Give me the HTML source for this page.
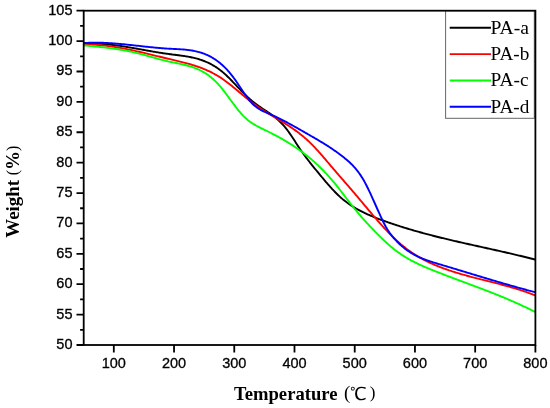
<!DOCTYPE html>
<html><head><meta charset="utf-8"><title>TGA curves</title>
<style>
html,body{margin:0;padding:0;background:#fff;}
body{width:550px;height:408px;overflow:hidden;}
svg{display:block;}
.tick text{font-family:"Liberation Sans",Arial,sans-serif;font-size:14.5px;fill:#000;stroke:#000;stroke-width:0.3px;}
.leg text{font-family:"Liberation Serif","Times New Roman",serif;font-size:19px;fill:#000;}
.unit{font-family:"Liberation Serif","Times New Roman",serif;fill:#000;}
.ttl{font-family:"Liberation Serif","Times New Roman",serif;font-weight:bold;font-size:19px;fill:#000;}
</style></head>
<body>
<svg width="550" height="408" viewBox="0 0 550 408">
<rect width="550" height="408" fill="#fff"/>
<g fill="none" stroke-width="1.9" stroke-linejoin="round" stroke-linecap="round">
<path d="M84.0,43.49 L85.0,43.45 L86.0,43.42 L87.0,43.40 L88.0,43.38 L89.0,43.38 L90.0,43.37 L91.0,43.38 L92.0,43.39 L93.0,43.41 L94.0,43.44 L95.0,43.47 L96.0,43.51 L97.0,43.55 L98.0,43.60 L99.0,43.66 L100.0,43.72 L101.0,43.78 L102.0,43.85 L103.0,43.93 L104.0,44.01 L105.0,44.10 L106.0,44.19 L107.0,44.29 L108.0,44.39 L109.0,44.50 L110.0,44.61 L111.0,44.72 L112.0,44.84 L113.0,44.96 L114.0,45.09 L115.0,45.22 L116.0,45.35 L117.0,45.48 L118.0,45.62 L119.0,45.77 L120.0,45.91 L121.0,46.06 L122.0,46.21 L123.0,46.37 L124.0,46.52 L125.0,46.68 L126.0,46.84 L127.0,47.01 L128.0,47.17 L129.0,47.34 L130.0,47.51 L131.0,47.68 L132.0,47.85 L133.0,48.02 L134.0,48.20 L135.0,48.37 L136.0,48.55 L137.0,48.73 L138.0,48.91 L139.0,49.09 L140.0,49.26 L141.0,49.44 L142.0,49.62 L143.0,49.80 L144.0,49.98 L145.0,50.16 L146.0,50.34 L147.0,50.52 L148.0,50.70 L149.0,50.87 L150.0,51.05 L151.0,51.22 L152.0,51.40 L153.0,51.57 L154.0,51.74 L155.0,51.91 L156.0,52.08 L157.0,52.24 L158.0,52.41 L159.0,52.57 L160.0,52.73 L161.0,52.89 L162.0,53.04 L163.0,53.20 L164.0,53.35 L165.0,53.50 L166.0,53.64 L167.0,53.78 L168.0,53.92 L169.0,54.05 L170.0,54.19 L171.0,54.31 L172.0,54.44 L173.0,54.57 L174.0,54.69 L175.0,54.81 L176.0,54.94 L177.0,55.06 L178.0,55.19 L179.0,55.31 L180.0,55.45 L181.0,55.58 L182.0,55.72 L183.0,55.86 L184.0,56.01 L185.0,56.16 L186.0,56.32 L187.0,56.49 L188.0,56.66 L189.0,56.84 L190.0,57.04 L191.0,57.24 L192.0,57.45 L193.0,57.67 L194.0,57.90 L195.0,58.15 L196.0,58.41 L197.0,58.68 L198.0,58.96 L199.0,59.26 L200.0,59.58 L201.0,59.91 L202.0,60.25 L203.0,60.62 L204.0,61.00 L205.0,61.39 L206.0,61.81 L207.0,62.25 L208.0,62.71 L209.0,63.18 L210.0,63.68 L211.0,64.20 L212.0,64.74 L213.0,65.31 L214.0,65.90 L215.0,66.51 L216.0,67.15 L217.0,67.82 L218.0,68.51 L219.0,69.22 L220.0,69.97 L221.0,70.74 L222.0,71.54 L223.0,72.37 L224.0,73.23 L225.0,74.12 L226.0,75.04 L227.0,75.98 L228.0,76.95 L229.0,77.94 L230.0,78.94 L231.0,79.96 L232.0,81.00 L233.0,82.05 L234.0,83.10 L235.0,84.16 L236.0,85.22 L237.0,86.29 L238.0,87.35 L239.0,88.41 L240.0,89.47 L241.0,90.51 L242.0,91.55 L243.0,92.57 L244.0,93.58 L245.0,94.56 L246.0,95.53 L247.0,96.47 L248.0,97.39 L249.0,98.29 L250.0,99.17 L251.0,100.03 L252.0,100.86 L253.0,101.68 L254.0,102.48 L255.0,103.26 L256.0,104.02 L257.0,104.76 L258.0,105.49 L259.0,106.20 L260.0,106.90 L261.0,107.58 L262.0,108.25 L263.0,108.92 L264.0,109.58 L265.0,110.24 L266.0,110.89 L267.0,111.56 L268.0,112.23 L269.0,112.90 L270.0,113.59 L271.0,114.30 L272.0,115.02 L273.0,115.76 L274.0,116.52 L275.0,117.31 L276.0,118.12 L277.0,118.97 L278.0,119.85 L279.0,120.77 L280.0,121.72 L281.0,122.72 L282.0,123.76 L283.0,124.85 L284.0,125.99 L285.0,127.18 L286.0,128.42 L287.0,129.70 L288.0,131.04 L289.0,132.41 L290.0,133.83 L291.0,135.28 L292.0,136.76 L293.0,138.28 L294.0,139.81 L295.0,141.35 L296.0,142.90 L297.0,144.44 L298.0,145.97 L299.0,147.48 L300.0,148.97 L301.0,150.42 L302.0,151.86 L303.0,153.26 L304.0,154.65 L305.0,156.01 L306.0,157.36 L307.0,158.68 L308.0,159.99 L309.0,161.28 L310.0,162.56 L311.0,163.83 L312.0,165.08 L313.0,166.32 L314.0,167.56 L315.0,168.79 L316.0,170.01 L317.0,171.22 L318.0,172.43 L319.0,173.64 L320.0,174.85 L321.0,176.06 L322.0,177.26 L323.0,178.46 L324.0,179.65 L325.0,180.84 L326.0,182.01 L327.0,183.18 L328.0,184.33 L329.0,185.48 L330.0,186.61 L331.0,187.72 L332.0,188.82 L333.0,189.90 L334.0,190.96 L335.0,192.00 L336.0,193.01 L337.0,194.01 L338.0,194.98 L339.0,195.92 L340.0,196.84 L341.0,197.74 L342.0,198.60 L343.0,199.45 L344.0,200.26 L345.0,201.06 L346.0,201.83 L347.0,202.58 L348.0,203.31 L349.0,204.02 L350.0,204.71 L351.0,205.38 L352.0,206.03 L353.0,206.66 L354.0,207.28 L355.0,207.88 L356.0,208.46 L357.0,209.03 L358.0,209.59 L359.0,210.13 L360.0,210.66 L361.0,211.18 L362.0,211.68 L363.0,212.18 L364.0,212.67 L365.0,213.14 L366.0,213.61 L367.0,214.07 L368.0,214.52 L369.0,214.96 L370.0,215.40 L371.0,215.82 L372.0,216.24 L373.0,216.66 L374.0,217.07 L375.0,217.47 L376.0,217.86 L377.0,218.26 L378.0,218.64 L379.0,219.02 L380.0,219.40 L381.0,219.77 L382.0,220.14 L383.0,220.51 L384.0,220.87 L385.0,221.23 L386.0,221.58 L387.0,221.94 L388.0,222.29 L389.0,222.64 L390.0,222.98 L391.0,223.32 L392.0,223.66 L393.0,224.00 L394.0,224.34 L395.0,224.67 L396.0,225.00 L397.0,225.33 L398.0,225.65 L399.0,225.97 L400.0,226.29 L401.0,226.61 L402.0,226.93 L403.0,227.24 L404.0,227.55 L405.0,227.86 L406.0,228.17 L407.0,228.47 L408.0,228.77 L409.0,229.07 L410.0,229.37 L411.0,229.67 L412.0,229.96 L413.0,230.25 L414.0,230.54 L415.0,230.83 L416.0,231.12 L417.0,231.40 L418.0,231.68 L419.0,231.96 L420.0,232.24 L421.0,232.52 L422.0,232.79 L423.0,233.06 L424.0,233.34 L425.0,233.61 L426.0,233.87 L427.0,234.14 L428.0,234.40 L429.0,234.67 L430.0,234.93 L431.0,235.19 L432.0,235.45 L433.0,235.71 L434.0,235.96 L435.0,236.22 L436.0,236.47 L437.0,236.72 L438.0,236.97 L439.0,237.22 L440.0,237.47 L441.0,237.72 L442.0,237.96 L443.0,238.20 L444.0,238.45 L445.0,238.69 L446.0,238.93 L447.0,239.17 L448.0,239.41 L449.0,239.65 L450.0,239.88 L451.0,240.12 L452.0,240.36 L453.0,240.59 L454.0,240.82 L455.0,241.06 L456.0,241.29 L457.0,241.52 L458.0,241.75 L459.0,241.98 L460.0,242.21 L461.0,242.44 L462.0,242.66 L463.0,242.89 L464.0,243.12 L465.0,243.34 L466.0,243.57 L467.0,243.79 L468.0,244.02 L469.0,244.24 L470.0,244.47 L471.0,244.69 L472.0,244.91 L473.0,245.14 L474.0,245.36 L475.0,245.58 L476.0,245.80 L477.0,246.02 L478.0,246.25 L479.0,246.47 L480.0,246.69 L481.0,246.91 L482.0,247.13 L483.0,247.35 L484.0,247.57 L485.0,247.79 L486.0,248.02 L487.0,248.24 L488.0,248.46 L489.0,248.68 L490.0,248.90 L491.0,249.12 L492.0,249.35 L493.0,249.57 L494.0,249.79 L495.0,250.02 L496.0,250.24 L497.0,250.46 L498.0,250.69 L499.0,250.91 L500.0,251.14 L501.0,251.36 L502.0,251.59 L503.0,251.82 L504.0,252.04 L505.0,252.27 L506.0,252.50 L507.0,252.73 L508.0,252.96 L509.0,253.19 L510.0,253.42 L511.0,253.66 L512.0,253.89 L513.0,254.12 L514.0,254.36 L515.0,254.59 L516.0,254.83 L517.0,255.07 L518.0,255.31 L519.0,255.55 L520.0,255.79 L521.0,256.03 L522.0,256.27 L523.0,256.51 L524.0,256.76 L525.0,257.01 L526.0,257.25 L527.0,257.50 L528.0,257.75 L529.0,258.00 L530.0,258.26 L531.0,258.51 L532.0,258.77 L533.0,259.02 L534.0,259.28 L535.0,259.54" stroke="#000" />
<path d="M84.0,44.57 L85.0,44.55 L86.0,44.55 L87.0,44.55 L88.0,44.56 L89.0,44.58 L90.0,44.60 L91.0,44.63 L92.0,44.67 L93.0,44.71 L94.0,44.76 L95.0,44.81 L96.0,44.87 L97.0,44.94 L98.0,45.01 L99.0,45.09 L100.0,45.17 L101.0,45.26 L102.0,45.36 L103.0,45.46 L104.0,45.56 L105.0,45.67 L106.0,45.79 L107.0,45.91 L108.0,46.03 L109.0,46.16 L110.0,46.29 L111.0,46.43 L112.0,46.58 L113.0,46.72 L114.0,46.88 L115.0,47.03 L116.0,47.19 L117.0,47.36 L118.0,47.52 L119.0,47.69 L120.0,47.87 L121.0,48.05 L122.0,48.23 L123.0,48.42 L124.0,48.61 L125.0,48.80 L126.0,48.99 L127.0,49.19 L128.0,49.39 L129.0,49.60 L130.0,49.80 L131.0,50.01 L132.0,50.22 L133.0,50.44 L134.0,50.66 L135.0,50.87 L136.0,51.09 L137.0,51.32 L138.0,51.54 L139.0,51.77 L140.0,52.00 L141.0,52.23 L142.0,52.46 L143.0,52.69 L144.0,52.93 L145.0,53.16 L146.0,53.40 L147.0,53.64 L148.0,53.88 L149.0,54.12 L150.0,54.36 L151.0,54.60 L152.0,54.84 L153.0,55.08 L154.0,55.32 L155.0,55.57 L156.0,55.81 L157.0,56.05 L158.0,56.30 L159.0,56.54 L160.0,56.78 L161.0,57.03 L162.0,57.27 L163.0,57.51 L164.0,57.75 L165.0,57.99 L166.0,58.23 L167.0,58.47 L168.0,58.71 L169.0,58.95 L170.0,59.18 L171.0,59.42 L172.0,59.65 L173.0,59.89 L174.0,60.12 L175.0,60.36 L176.0,60.59 L177.0,60.83 L178.0,61.07 L179.0,61.31 L180.0,61.55 L181.0,61.80 L182.0,62.05 L183.0,62.30 L184.0,62.56 L185.0,62.82 L186.0,63.09 L187.0,63.36 L188.0,63.63 L189.0,63.91 L190.0,64.20 L191.0,64.49 L192.0,64.79 L193.0,65.10 L194.0,65.41 L195.0,65.73 L196.0,66.06 L197.0,66.40 L198.0,66.75 L199.0,67.10 L200.0,67.47 L201.0,67.84 L202.0,68.23 L203.0,68.62 L204.0,69.03 L205.0,69.44 L206.0,69.87 L207.0,70.31 L208.0,70.77 L209.0,71.23 L210.0,71.71 L211.0,72.20 L212.0,72.70 L213.0,73.22 L214.0,73.76 L215.0,74.31 L216.0,74.87 L217.0,75.45 L218.0,76.04 L219.0,76.65 L220.0,77.28 L221.0,77.92 L222.0,78.58 L223.0,79.26 L224.0,79.96 L225.0,80.67 L226.0,81.40 L227.0,82.15 L228.0,82.91 L229.0,83.68 L230.0,84.47 L231.0,85.27 L232.0,86.08 L233.0,86.89 L234.0,87.72 L235.0,88.55 L236.0,89.38 L237.0,90.22 L238.0,91.06 L239.0,91.90 L240.0,92.74 L241.0,93.58 L242.0,94.42 L243.0,95.26 L244.0,96.09 L245.0,96.91 L246.0,97.73 L247.0,98.54 L248.0,99.34 L249.0,100.13 L250.0,100.91 L251.0,101.67 L252.0,102.42 L253.0,103.17 L254.0,103.90 L255.0,104.62 L256.0,105.34 L257.0,106.04 L258.0,106.73 L259.0,107.42 L260.0,108.09 L261.0,108.76 L262.0,109.42 L263.0,110.08 L264.0,110.72 L265.0,111.36 L266.0,112.00 L267.0,112.63 L268.0,113.25 L269.0,113.87 L270.0,114.48 L271.0,115.09 L272.0,115.69 L273.0,116.29 L274.0,116.89 L275.0,117.49 L276.0,118.08 L277.0,118.68 L278.0,119.28 L279.0,119.88 L280.0,120.48 L281.0,121.08 L282.0,121.68 L283.0,122.29 L284.0,122.91 L285.0,123.53 L286.0,124.15 L287.0,124.78 L288.0,125.42 L289.0,126.07 L290.0,126.72 L291.0,127.38 L292.0,128.06 L293.0,128.74 L294.0,129.44 L295.0,130.14 L296.0,130.86 L297.0,131.59 L298.0,132.34 L299.0,133.10 L300.0,133.88 L301.0,134.67 L302.0,135.48 L303.0,136.30 L304.0,137.14 L305.0,138.01 L306.0,138.89 L307.0,139.79 L308.0,140.71 L309.0,141.65 L310.0,142.61 L311.0,143.60 L312.0,144.60 L313.0,145.62 L314.0,146.66 L315.0,147.72 L316.0,148.79 L317.0,149.88 L318.0,150.98 L319.0,152.09 L320.0,153.22 L321.0,154.35 L322.0,155.49 L323.0,156.64 L324.0,157.80 L325.0,158.97 L326.0,160.14 L327.0,161.31 L328.0,162.49 L329.0,163.67 L330.0,164.85 L331.0,166.03 L332.0,167.21 L333.0,168.38 L334.0,169.55 L335.0,170.72 L336.0,171.89 L337.0,173.05 L338.0,174.21 L339.0,175.36 L340.0,176.51 L341.0,177.67 L342.0,178.82 L343.0,179.97 L344.0,181.12 L345.0,182.27 L346.0,183.42 L347.0,184.57 L348.0,185.72 L349.0,186.87 L350.0,188.03 L351.0,189.19 L352.0,190.35 L353.0,191.52 L354.0,192.69 L355.0,193.87 L356.0,195.05 L357.0,196.23 L358.0,197.42 L359.0,198.60 L360.0,199.80 L361.0,200.99 L362.0,202.18 L363.0,203.38 L364.0,204.57 L365.0,205.77 L366.0,206.96 L367.0,208.15 L368.0,209.34 L369.0,210.53 L370.0,211.72 L371.0,212.90 L372.0,214.08 L373.0,215.25 L374.0,216.42 L375.0,217.58 L376.0,218.74 L377.0,219.89 L378.0,221.04 L379.0,222.18 L380.0,223.31 L381.0,224.43 L382.0,225.54 L383.0,226.65 L384.0,227.74 L385.0,228.82 L386.0,229.90 L387.0,230.96 L388.0,232.01 L389.0,233.05 L390.0,234.07 L391.0,235.08 L392.0,236.08 L393.0,237.07 L394.0,238.04 L395.0,238.99 L396.0,239.93 L397.0,240.85 L398.0,241.76 L399.0,242.65 L400.0,243.52 L401.0,244.37 L402.0,245.21 L403.0,246.03 L404.0,246.83 L405.0,247.62 L406.0,248.39 L407.0,249.15 L408.0,249.89 L409.0,250.61 L410.0,251.32 L411.0,252.01 L412.0,252.70 L413.0,253.36 L414.0,254.02 L415.0,254.65 L416.0,255.28 L417.0,255.89 L418.0,256.49 L419.0,257.08 L420.0,257.66 L421.0,258.22 L422.0,258.77 L423.0,259.31 L424.0,259.84 L425.0,260.36 L426.0,260.87 L427.0,261.37 L428.0,261.86 L429.0,262.34 L430.0,262.81 L431.0,263.27 L432.0,263.72 L433.0,264.16 L434.0,264.59 L435.0,265.02 L436.0,265.44 L437.0,265.85 L438.0,266.25 L439.0,266.65 L440.0,267.04 L441.0,267.42 L442.0,267.80 L443.0,268.17 L444.0,268.54 L445.0,268.90 L446.0,269.25 L447.0,269.60 L448.0,269.95 L449.0,270.29 L450.0,270.62 L451.0,270.95 L452.0,271.28 L453.0,271.60 L454.0,271.92 L455.0,272.24 L456.0,272.55 L457.0,272.85 L458.0,273.16 L459.0,273.45 L460.0,273.75 L461.0,274.04 L462.0,274.33 L463.0,274.62 L464.0,274.90 L465.0,275.18 L466.0,275.46 L467.0,275.73 L468.0,276.01 L469.0,276.28 L470.0,276.55 L471.0,276.81 L472.0,277.08 L473.0,277.34 L474.0,277.60 L475.0,277.86 L476.0,278.12 L477.0,278.37 L478.0,278.63 L479.0,278.88 L480.0,279.14 L481.0,279.39 L482.0,279.64 L483.0,279.89 L484.0,280.14 L485.0,280.39 L486.0,280.65 L487.0,280.90 L488.0,281.15 L489.0,281.40 L490.0,281.65 L491.0,281.90 L492.0,282.15 L493.0,282.40 L494.0,282.66 L495.0,282.91 L496.0,283.17 L497.0,283.43 L498.0,283.68 L499.0,283.94 L500.0,284.20 L501.0,284.47 L502.0,284.73 L503.0,285.00 L504.0,285.27 L505.0,285.54 L506.0,285.81 L507.0,286.09 L508.0,286.37 L509.0,286.65 L510.0,286.93 L511.0,287.22 L512.0,287.51 L513.0,287.80 L514.0,288.10 L515.0,288.40 L516.0,288.70 L517.0,289.01 L518.0,289.32 L519.0,289.64 L520.0,289.95 L521.0,290.28 L522.0,290.61 L523.0,290.94 L524.0,291.28 L525.0,291.62 L526.0,291.96 L527.0,292.31 L528.0,292.67 L529.0,293.03 L530.0,293.40 L531.0,293.77 L532.0,294.15 L533.0,294.53 L534.0,294.92 L535.0,295.32" stroke="#f00" />
<path d="M84.0,45.33 L85.0,45.44 L86.0,45.54 L87.0,45.64 L88.0,45.75 L89.0,45.85 L90.0,45.95 L91.0,46.05 L92.0,46.15 L93.0,46.25 L94.0,46.36 L95.0,46.46 L96.0,46.56 L97.0,46.67 L98.0,46.77 L99.0,46.88 L100.0,46.99 L101.0,47.10 L102.0,47.21 L103.0,47.32 L104.0,47.43 L105.0,47.55 L106.0,47.67 L107.0,47.79 L108.0,47.91 L109.0,48.03 L110.0,48.16 L111.0,48.29 L112.0,48.42 L113.0,48.56 L114.0,48.70 L115.0,48.84 L116.0,48.99 L117.0,49.14 L118.0,49.29 L119.0,49.44 L120.0,49.61 L121.0,49.77 L122.0,49.94 L123.0,50.11 L124.0,50.29 L125.0,50.47 L126.0,50.66 L127.0,50.85 L128.0,51.05 L129.0,51.25 L130.0,51.46 L131.0,51.67 L132.0,51.89 L133.0,52.11 L134.0,52.34 L135.0,52.58 L136.0,52.82 L137.0,53.06 L138.0,53.32 L139.0,53.57 L140.0,53.83 L141.0,54.10 L142.0,54.36 L143.0,54.63 L144.0,54.91 L145.0,55.18 L146.0,55.46 L147.0,55.74 L148.0,56.02 L149.0,56.30 L150.0,56.58 L151.0,56.87 L152.0,57.15 L153.0,57.43 L154.0,57.71 L155.0,57.99 L156.0,58.27 L157.0,58.55 L158.0,58.82 L159.0,59.09 L160.0,59.36 L161.0,59.63 L162.0,59.89 L163.0,60.15 L164.0,60.40 L165.0,60.65 L166.0,60.89 L167.0,61.13 L168.0,61.36 L169.0,61.59 L170.0,61.81 L171.0,62.02 L172.0,62.23 L173.0,62.43 L174.0,62.64 L175.0,62.84 L176.0,63.04 L177.0,63.24 L178.0,63.44 L179.0,63.65 L180.0,63.86 L181.0,64.07 L182.0,64.29 L183.0,64.51 L184.0,64.74 L185.0,64.98 L186.0,65.23 L187.0,65.49 L188.0,65.76 L189.0,66.04 L190.0,66.34 L191.0,66.64 L192.0,66.97 L193.0,67.31 L194.0,67.67 L195.0,68.04 L196.0,68.44 L197.0,68.85 L198.0,69.29 L199.0,69.75 L200.0,70.23 L201.0,70.74 L202.0,71.27 L203.0,71.82 L204.0,72.41 L205.0,73.02 L206.0,73.66 L207.0,74.33 L208.0,75.03 L209.0,75.76 L210.0,76.53 L211.0,77.33 L212.0,78.16 L213.0,79.03 L214.0,79.94 L215.0,80.88 L216.0,81.87 L217.0,82.89 L218.0,83.95 L219.0,85.06 L220.0,86.21 L221.0,87.39 L222.0,88.62 L223.0,89.87 L224.0,91.15 L225.0,92.45 L226.0,93.78 L227.0,95.12 L228.0,96.47 L229.0,97.83 L230.0,99.19 L231.0,100.56 L232.0,101.92 L233.0,103.27 L234.0,104.62 L235.0,105.94 L236.0,107.25 L237.0,108.54 L238.0,109.80 L239.0,111.03 L240.0,112.22 L241.0,113.38 L242.0,114.50 L243.0,115.57 L244.0,116.59 L245.0,117.56 L246.0,118.48 L247.0,119.35 L248.0,120.17 L249.0,120.95 L250.0,121.70 L251.0,122.40 L252.0,123.08 L253.0,123.72 L254.0,124.33 L255.0,124.92 L256.0,125.49 L257.0,126.03 L258.0,126.56 L259.0,127.08 L260.0,127.58 L261.0,128.08 L262.0,128.57 L263.0,129.05 L264.0,129.54 L265.0,130.03 L266.0,130.52 L267.0,131.01 L268.0,131.51 L269.0,132.01 L270.0,132.51 L271.0,133.02 L272.0,133.53 L273.0,134.05 L274.0,134.57 L275.0,135.09 L276.0,135.62 L277.0,136.16 L278.0,136.70 L279.0,137.24 L280.0,137.80 L281.0,138.35 L282.0,138.92 L283.0,139.49 L284.0,140.07 L285.0,140.65 L286.0,141.25 L287.0,141.85 L288.0,142.45 L289.0,143.07 L290.0,143.69 L291.0,144.32 L292.0,144.96 L293.0,145.61 L294.0,146.27 L295.0,146.93 L296.0,147.61 L297.0,148.30 L298.0,148.99 L299.0,149.70 L300.0,150.41 L301.0,151.14 L302.0,151.88 L303.0,152.63 L304.0,153.39 L305.0,154.16 L306.0,154.94 L307.0,155.73 L308.0,156.54 L309.0,157.36 L310.0,158.19 L311.0,159.03 L312.0,159.89 L313.0,160.76 L314.0,161.64 L315.0,162.54 L316.0,163.45 L317.0,164.38 L318.0,165.31 L319.0,166.27 L320.0,167.24 L321.0,168.22 L322.0,169.22 L323.0,170.23 L324.0,171.26 L325.0,172.31 L326.0,173.37 L327.0,174.45 L328.0,175.54 L329.0,176.65 L330.0,177.78 L331.0,178.92 L332.0,180.09 L333.0,181.27 L334.0,182.46 L335.0,183.68 L336.0,184.91 L337.0,186.16 L338.0,187.42 L339.0,188.69 L340.0,189.97 L341.0,191.26 L342.0,192.56 L343.0,193.86 L344.0,195.16 L345.0,196.47 L346.0,197.78 L347.0,199.08 L348.0,200.38 L349.0,201.68 L350.0,202.97 L351.0,204.25 L352.0,205.53 L353.0,206.79 L354.0,208.04 L355.0,209.27 L356.0,210.49 L357.0,211.70 L358.0,212.89 L359.0,214.07 L360.0,215.24 L361.0,216.40 L362.0,217.54 L363.0,218.68 L364.0,219.80 L365.0,220.91 L366.0,222.01 L367.0,223.10 L368.0,224.19 L369.0,225.26 L370.0,226.33 L371.0,227.39 L372.0,228.44 L373.0,229.48 L374.0,230.52 L375.0,231.55 L376.0,232.57 L377.0,233.59 L378.0,234.59 L379.0,235.59 L380.0,236.58 L381.0,237.56 L382.0,238.53 L383.0,239.49 L384.0,240.44 L385.0,241.37 L386.0,242.30 L387.0,243.21 L388.0,244.10 L389.0,244.98 L390.0,245.85 L391.0,246.70 L392.0,247.53 L393.0,248.35 L394.0,249.15 L395.0,249.93 L396.0,250.69 L397.0,251.44 L398.0,252.17 L399.0,252.89 L400.0,253.58 L401.0,254.27 L402.0,254.93 L403.0,255.59 L404.0,256.22 L405.0,256.85 L406.0,257.46 L407.0,258.06 L408.0,258.64 L409.0,259.21 L410.0,259.77 L411.0,260.32 L412.0,260.86 L413.0,261.39 L414.0,261.91 L415.0,262.41 L416.0,262.91 L417.0,263.40 L418.0,263.88 L419.0,264.35 L420.0,264.82 L421.0,265.28 L422.0,265.73 L423.0,266.17 L424.0,266.61 L425.0,267.04 L426.0,267.46 L427.0,267.89 L428.0,268.30 L429.0,268.72 L430.0,269.12 L431.0,269.53 L432.0,269.93 L433.0,270.33 L434.0,270.73 L435.0,271.13 L436.0,271.52 L437.0,271.92 L438.0,272.31 L439.0,272.70 L440.0,273.09 L441.0,273.48 L442.0,273.86 L443.0,274.25 L444.0,274.63 L445.0,275.02 L446.0,275.40 L447.0,275.78 L448.0,276.16 L449.0,276.54 L450.0,276.92 L451.0,277.30 L452.0,277.67 L453.0,278.05 L454.0,278.42 L455.0,278.80 L456.0,279.17 L457.0,279.55 L458.0,279.92 L459.0,280.30 L460.0,280.67 L461.0,281.04 L462.0,281.41 L463.0,281.79 L464.0,282.16 L465.0,282.53 L466.0,282.91 L467.0,283.28 L468.0,283.65 L469.0,284.02 L470.0,284.40 L471.0,284.77 L472.0,285.15 L473.0,285.52 L474.0,285.90 L475.0,286.27 L476.0,286.65 L477.0,287.02 L478.0,287.40 L479.0,287.78 L480.0,288.16 L481.0,288.54 L482.0,288.92 L483.0,289.30 L484.0,289.69 L485.0,290.07 L486.0,290.46 L487.0,290.84 L488.0,291.23 L489.0,291.62 L490.0,292.01 L491.0,292.40 L492.0,292.80 L493.0,293.19 L494.0,293.59 L495.0,293.98 L496.0,294.38 L497.0,294.79 L498.0,295.19 L499.0,295.60 L500.0,296.00 L501.0,296.41 L502.0,296.82 L503.0,297.24 L504.0,297.65 L505.0,298.07 L506.0,298.49 L507.0,298.91 L508.0,299.34 L509.0,299.76 L510.0,300.19 L511.0,300.63 L512.0,301.06 L513.0,301.50 L514.0,301.94 L515.0,302.38 L516.0,302.83 L517.0,303.28 L518.0,303.73 L519.0,304.18 L520.0,304.64 L521.0,305.10 L522.0,305.56 L523.0,306.03 L524.0,306.50 L525.0,306.97 L526.0,307.45 L527.0,307.93 L528.0,308.41 L529.0,308.90 L530.0,309.39 L531.0,309.89 L532.0,310.39 L533.0,310.89 L534.0,311.39 L535.0,311.90" stroke="#0f0" />
<path d="M84.0,43.04 L85.0,42.98 L86.0,42.92 L87.0,42.87 L88.0,42.83 L89.0,42.79 L90.0,42.76 L91.0,42.73 L92.0,42.71 L93.0,42.69 L94.0,42.68 L95.0,42.68 L96.0,42.68 L97.0,42.69 L98.0,42.70 L99.0,42.71 L100.0,42.73 L101.0,42.76 L102.0,42.79 L103.0,42.82 L104.0,42.86 L105.0,42.90 L106.0,42.95 L107.0,43.00 L108.0,43.05 L109.0,43.11 L110.0,43.17 L111.0,43.23 L112.0,43.30 L113.0,43.37 L114.0,43.44 L115.0,43.52 L116.0,43.60 L117.0,43.68 L118.0,43.77 L119.0,43.85 L120.0,43.94 L121.0,44.03 L122.0,44.13 L123.0,44.22 L124.0,44.32 L125.0,44.42 L126.0,44.52 L127.0,44.62 L128.0,44.73 L129.0,44.83 L130.0,44.94 L131.0,45.05 L132.0,45.15 L133.0,45.26 L134.0,45.37 L135.0,45.48 L136.0,45.59 L137.0,45.70 L138.0,45.81 L139.0,45.92 L140.0,46.04 L141.0,46.15 L142.0,46.26 L143.0,46.37 L144.0,46.48 L145.0,46.59 L146.0,46.69 L147.0,46.80 L148.0,46.91 L149.0,47.01 L150.0,47.12 L151.0,47.22 L152.0,47.32 L153.0,47.42 L154.0,47.52 L155.0,47.62 L156.0,47.71 L157.0,47.80 L158.0,47.89 L159.0,47.98 L160.0,48.07 L161.0,48.15 L162.0,48.23 L163.0,48.31 L164.0,48.38 L165.0,48.46 L166.0,48.52 L167.0,48.59 L168.0,48.65 L169.0,48.71 L170.0,48.77 L171.0,48.82 L172.0,48.87 L173.0,48.92 L174.0,48.96 L175.0,49.01 L176.0,49.06 L177.0,49.11 L178.0,49.17 L179.0,49.22 L180.0,49.28 L181.0,49.35 L182.0,49.41 L183.0,49.49 L184.0,49.57 L185.0,49.66 L186.0,49.76 L187.0,49.86 L188.0,49.98 L189.0,50.11 L190.0,50.24 L191.0,50.39 L192.0,50.55 L193.0,50.73 L194.0,50.91 L195.0,51.12 L196.0,51.34 L197.0,51.57 L198.0,51.82 L199.0,52.09 L200.0,52.38 L201.0,52.68 L202.0,53.01 L203.0,53.36 L204.0,53.72 L205.0,54.11 L206.0,54.53 L207.0,54.96 L208.0,55.42 L209.0,55.91 L210.0,56.42 L211.0,56.95 L212.0,57.52 L213.0,58.11 L214.0,58.73 L215.0,59.38 L216.0,60.06 L217.0,60.77 L218.0,61.51 L219.0,62.28 L220.0,63.09 L221.0,63.93 L222.0,64.80 L223.0,65.71 L224.0,66.66 L225.0,67.64 L226.0,68.66 L227.0,69.72 L228.0,70.81 L229.0,71.95 L230.0,73.13 L231.0,74.34 L232.0,75.60 L233.0,76.90 L234.0,78.24 L235.0,79.63 L236.0,81.05 L237.0,82.51 L238.0,83.98 L239.0,85.48 L240.0,86.98 L241.0,88.49 L242.0,89.99 L243.0,91.48 L244.0,92.95 L245.0,94.40 L246.0,95.81 L247.0,97.19 L248.0,98.52 L249.0,99.81 L250.0,101.03 L251.0,102.18 L252.0,103.27 L253.0,104.27 L254.0,105.20 L255.0,106.06 L256.0,106.86 L257.0,107.60 L258.0,108.28 L259.0,108.92 L260.0,109.51 L261.0,110.07 L262.0,110.58 L263.0,111.08 L264.0,111.54 L265.0,111.99 L266.0,112.43 L267.0,112.86 L268.0,113.28 L269.0,113.71 L270.0,114.14 L271.0,114.58 L272.0,115.03 L273.0,115.49 L274.0,115.95 L275.0,116.42 L276.0,116.89 L277.0,117.37 L278.0,117.85 L279.0,118.35 L280.0,118.84 L281.0,119.34 L282.0,119.85 L283.0,120.36 L284.0,120.88 L285.0,121.40 L286.0,121.92 L287.0,122.45 L288.0,122.99 L289.0,123.53 L290.0,124.07 L291.0,124.61 L292.0,125.16 L293.0,125.71 L294.0,126.26 L295.0,126.82 L296.0,127.38 L297.0,127.94 L298.0,128.50 L299.0,129.07 L300.0,129.64 L301.0,130.21 L302.0,130.78 L303.0,131.35 L304.0,131.92 L305.0,132.50 L306.0,133.07 L307.0,133.65 L308.0,134.22 L309.0,134.80 L310.0,135.37 L311.0,135.95 L312.0,136.53 L313.0,137.11 L314.0,137.69 L315.0,138.27 L316.0,138.85 L317.0,139.44 L318.0,140.03 L319.0,140.62 L320.0,141.22 L321.0,141.82 L322.0,142.42 L323.0,143.03 L324.0,143.65 L325.0,144.27 L326.0,144.90 L327.0,145.53 L328.0,146.17 L329.0,146.82 L330.0,147.47 L331.0,148.13 L332.0,148.80 L333.0,149.48 L334.0,150.17 L335.0,150.86 L336.0,151.57 L337.0,152.29 L338.0,153.01 L339.0,153.75 L340.0,154.50 L341.0,155.26 L342.0,156.03 L343.0,156.82 L344.0,157.61 L345.0,158.42 L346.0,159.25 L347.0,160.09 L348.0,160.95 L349.0,161.83 L350.0,162.75 L351.0,163.70 L352.0,164.69 L353.0,165.71 L354.0,166.78 L355.0,167.90 L356.0,169.08 L357.0,170.31 L358.0,171.59 L359.0,172.95 L360.0,174.37 L361.0,175.87 L362.0,177.44 L363.0,179.09 L364.0,180.82 L365.0,182.64 L366.0,184.53 L367.0,186.49 L368.0,188.51 L369.0,190.58 L370.0,192.70 L371.0,194.87 L372.0,197.06 L373.0,199.28 L374.0,201.51 L375.0,203.76 L376.0,206.01 L377.0,208.26 L378.0,210.50 L379.0,212.71 L380.0,214.91 L381.0,217.07 L382.0,219.19 L383.0,221.26 L384.0,223.27 L385.0,225.20 L386.0,227.03 L387.0,228.76 L388.0,230.38 L389.0,231.90 L390.0,233.32 L391.0,234.65 L392.0,235.92 L393.0,237.12 L394.0,238.28 L395.0,239.39 L396.0,240.47 L397.0,241.52 L398.0,242.53 L399.0,243.50 L400.0,244.44 L401.0,245.35 L402.0,246.23 L403.0,247.07 L404.0,247.89 L405.0,248.67 L406.0,249.43 L407.0,250.16 L408.0,250.87 L409.0,251.55 L410.0,252.20 L411.0,252.83 L412.0,253.43 L413.0,254.02 L414.0,254.58 L415.0,255.12 L416.0,255.64 L417.0,256.14 L418.0,256.63 L419.0,257.10 L420.0,257.55 L421.0,257.98 L422.0,258.40 L423.0,258.81 L424.0,259.20 L425.0,259.58 L426.0,259.95 L427.0,260.31 L428.0,260.66 L429.0,261.00 L430.0,261.33 L431.0,261.65 L432.0,261.97 L433.0,262.29 L434.0,262.59 L435.0,262.90 L436.0,263.20 L437.0,263.50 L438.0,263.80 L439.0,264.10 L440.0,264.39 L441.0,264.69 L442.0,264.99 L443.0,265.29 L444.0,265.59 L445.0,265.89 L446.0,266.19 L447.0,266.49 L448.0,266.79 L449.0,267.09 L450.0,267.40 L451.0,267.70 L452.0,268.00 L453.0,268.30 L454.0,268.60 L455.0,268.91 L456.0,269.21 L457.0,269.51 L458.0,269.82 L459.0,270.12 L460.0,270.42 L461.0,270.72 L462.0,271.03 L463.0,271.33 L464.0,271.63 L465.0,271.94 L466.0,272.24 L467.0,272.54 L468.0,272.85 L469.0,273.15 L470.0,273.45 L471.0,273.76 L472.0,274.06 L473.0,274.36 L474.0,274.66 L475.0,274.97 L476.0,275.27 L477.0,275.57 L478.0,275.87 L479.0,276.17 L480.0,276.48 L481.0,276.78 L482.0,277.08 L483.0,277.38 L484.0,277.68 L485.0,277.98 L486.0,278.28 L487.0,278.58 L488.0,278.88 L489.0,279.17 L490.0,279.47 L491.0,279.77 L492.0,280.07 L493.0,280.36 L494.0,280.66 L495.0,280.95 L496.0,281.25 L497.0,281.54 L498.0,281.84 L499.0,282.13 L500.0,282.42 L501.0,282.72 L502.0,283.01 L503.0,283.30 L504.0,283.59 L505.0,283.88 L506.0,284.17 L507.0,284.46 L508.0,284.74 L509.0,285.03 L510.0,285.32 L511.0,285.60 L512.0,285.89 L513.0,286.17 L514.0,286.45 L515.0,286.73 L516.0,287.02 L517.0,287.30 L518.0,287.57 L519.0,287.85 L520.0,288.13 L521.0,288.41 L522.0,288.68 L523.0,288.96 L524.0,289.23 L525.0,289.50 L526.0,289.78 L527.0,290.05 L528.0,290.32 L529.0,290.58 L530.0,290.85 L531.0,291.12 L532.0,291.38 L533.0,291.65 L534.0,291.91 L535.0,292.17" stroke="#00f" />
</g>
<g class="leg">
<rect x="445.6" y="10.7" width="88.7" height="107.6" fill="#fff" stroke="#666" stroke-width="1.0"/>
<g fill="none" stroke-width="1.9"><path d="M449.70,27.75H491.00" stroke="#000" /><text x="490.50" y="33.55" textLength="38.50" lengthAdjust="spacingAndGlyphs">PA-a</text><path d="M449.70,54.10H491.00" stroke="#f00" /><text x="490.50" y="59.90" textLength="38.80" lengthAdjust="spacingAndGlyphs">PA-b</text><path d="M449.70,80.45H491.00" stroke="#0f0" /><text x="490.50" y="86.25" textLength="38.00" lengthAdjust="spacingAndGlyphs">PA-c</text><path d="M449.70,106.80H491.00" stroke="#00f" /><text x="490.50" y="112.60" textLength="38.80" lengthAdjust="spacingAndGlyphs">PA-d</text></g>
</g>
<rect x="83.7" y="10.7" width="451.70" height="334.30" fill="none" stroke="#000" stroke-width="1.8"/>
<path d="M76.50,10.70H83.70M76.50,41.09H83.70M76.50,71.48H83.70M76.50,101.87H83.70M76.50,132.26H83.70M76.50,162.65H83.70M76.50,193.05H83.70M76.50,223.44H83.70M76.50,253.83H83.70M76.50,284.22H83.70M76.50,314.61H83.70M76.50,345.00H83.70M80.10,25.90H83.70M80.10,56.29H83.70M80.10,86.68H83.70M80.10,117.07H83.70M80.10,147.46H83.70M80.10,177.85H83.70M80.10,208.24H83.70M80.10,238.63H83.70M80.10,269.02H83.70M80.10,299.41H83.70M80.10,329.80H83.70M113.81,345.00V352.60M174.04,345.00V352.60M234.27,345.00V352.60M294.49,345.00V352.60M354.72,345.00V352.60M414.95,345.00V352.60M475.17,345.00V352.60M535.40,345.00V352.60" stroke="#000" stroke-width="1.8" fill="none"/>
<g class="tick" text-anchor="end"><text x="72.50" y="14.70">105</text><text x="72.50" y="45.09">100</text><text x="72.50" y="75.48">95</text><text x="72.50" y="105.87">90</text><text x="72.50" y="136.26">85</text><text x="72.50" y="166.65">80</text><text x="72.50" y="197.05">75</text><text x="72.50" y="227.44">70</text><text x="72.50" y="257.83">65</text><text x="72.50" y="288.22">60</text><text x="72.50" y="318.61">55</text><text x="72.50" y="349.00">50</text></g>
<g class="tick" text-anchor="middle"><text x="113.81" y="368.00">100</text><text x="174.04" y="368.00">200</text><text x="234.27" y="368.00">300</text><text x="294.49" y="368.00">400</text><text x="354.72" y="368.00">500</text><text x="414.95" y="368.00">600</text><text x="475.17" y="368.00">700</text><text x="535.40" y="368.00">800</text></g>
<text class="ttl" transform="translate(18.9,191.7) rotate(-90)" text-anchor="middle" font-size="18" textLength="92.0" lengthAdjust="spacingAndGlyphs">Weight <tspan font-weight="normal" font-size="16" dy="-0.8">(</tspan><tspan dy="0.8">%</tspan><tspan font-weight="normal" font-size="16" dy="-0.8">)</tspan></text>
<text class="ttl" x="234.0" y="399.5" textLength="103.5" lengthAdjust="spacingAndGlyphs">Temperature</text>
<text class="unit" x="344.0" y="399.0" font-size="19">(</text>
<text x="350.0" y="399.6" font-size="18" style="font-family:&quot;Liberation Serif&quot;,&quot;WenQuanYi Zen Hei&quot;,serif;fill:#000">℃</text>
<text class="unit" x="369.7" y="398.0" font-size="17">)</text>
</svg>
</body></html>
